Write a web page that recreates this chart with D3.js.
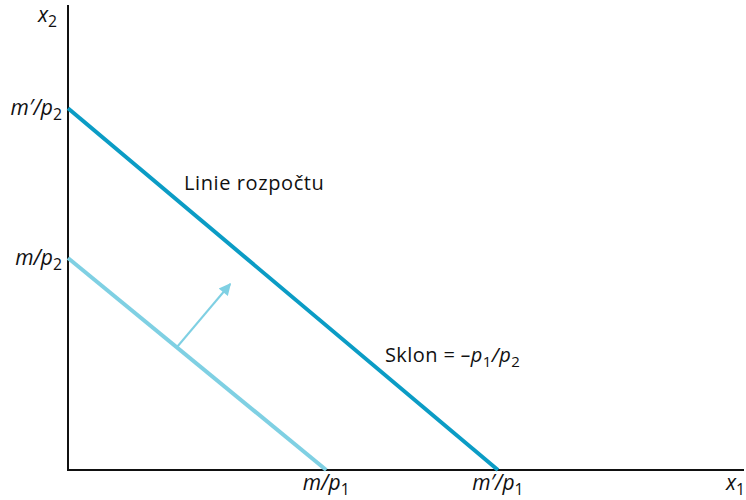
<!DOCTYPE html>
<html><head><meta charset="utf-8">
<script src="https://cdn.jsdelivr.net/npm/d3@7"></script>
<style>
body{margin:0;background:#fff;}
text{font-family:"Open Sans","Noto Sans",sans-serif;fill:#111;}
.m{font-style:italic;}
</style></head>
<body><svg id="c" width="746" height="500"></svg>
<script>
// abstract units
const xMax = 10, yMax = 10;
const budgetLines = [
  {name:"initial", x1Intercept:3.82, x2Intercept:4.56, color:"#7fd0e3"},
  {name:"shifted", x1Intercept:6.36, x2Intercept:7.78, color:"#0b9cc5"}
];
const shiftArrow = {from:[1.61, 2.64], to:[2.40, 4.0]};
const xTickLabels = [
  {value:3.82, parts:[["m",""],["/",""],["p",""],["1","sub"]]},
  {value:6.36, parts:[["m",""],["′",""],["/",""],["p",""],["1","sub"]]}
];
const yTickLabels = [
  {value:4.56, parts:[["m",""],["/",""],["p",""],["2","sub"]]},
  {value:7.78, parts:[["m",""],["′",""],["/",""],["p",""],["2","sub"]]}
];

const svg = d3.select("#c");
const x = d3.scaleLinear().domain([0, xMax]).range([68, 744]);
const y = d3.scaleLinear().domain([0, yMax]).range([470, 5]);

// axes
svg.append("line").attr("x1",x(0)).attr("x2",x(0)).attr("y1",y(0)+1).attr("y2",y(yMax))
  .attr("stroke","#111").attr("stroke-width",2);
svg.append("line").attr("x1",x(0)-1).attr("x2",x(xMax)).attr("y1",y(0)).attr("y2",y(0))
  .attr("stroke","#111").attr("stroke-width",2);

// budget lines
const line = d3.line().x(d=>x(d[0])).y(d=>y(d[1]));
budgetLines.forEach(b=>{
  svg.append("path").attr("d", line([[0,b.x2Intercept],[b.x1Intercept,0]]))
    .attr("stroke", b.color).attr("stroke-width",4).attr("fill","none");
});

// arrow
svg.append("defs").append("marker").attr("id","ah")
  .attr("viewBox","0 0 10 10").attr("refX",9).attr("refY",5)
  .attr("markerWidth",15).attr("markerHeight",12).attr("markerUnits","userSpaceOnUse")
  .attr("orient","auto")
  .append("path").attr("d","M0,0 L10,5 L0,10 Z").attr("fill","#7fd0e3");
svg.append("path").attr("d", line([shiftArrow.from, shiftArrow.to]))
  .attr("stroke","#7fd0e3").attr("stroke-width",2).attr("fill","none")
  .attr("marker-end","url(#ah)");

function mathText(g, parts, size){
  const t = g.append("text").attr("class","m").attr("font-size",size);
  parts.forEach(([s,k])=>{
    const ts = t.append("tspan").text(s);
    if(k==="sub"){ ts.attr("font-size",size*0.75).attr("dy",size*0.22).attr("font-style","normal"); }
  });
  return t;
}

// y tick labels
yTickLabels.forEach(l=>{
  const t = mathText(svg, l.parts, 21);
  t.attr("x", 62).attr("y", y(l.value)+7).attr("text-anchor","end");
});
// x tick labels
xTickLabels.forEach(l=>{
  const t = mathText(svg, l.parts, 21);
  t.attr("x", x(l.value)).attr("y", 490).attr("text-anchor","middle");
});
// axis names
mathText(svg, [["x",""],["2","sub"]], 21).attr("x",38).attr("y",22);
mathText(svg, [["x",""],["1","sub"]], 21).attr("x",726).attr("y",490);

// annotations
svg.append("text").attr("x",184).attr("y",190).attr("font-size",20)
  .attr("letter-spacing",0.6).text("Linie rozpočtu");
const s = svg.append("text").attr("x",385).attr("y",362).attr("font-size",20).attr("letter-spacing",0.4);
s.append("tspan").text("Sklon = ");
s.append("tspan").attr("font-style","italic").text("–p");
s.append("tspan").attr("font-size",15).attr("dy",5).text("1");
s.append("tspan").attr("font-style","italic").attr("dy",-5).text("/p");
s.append("tspan").attr("font-size",15).attr("dy",5).text("2");
</script></body></html>
